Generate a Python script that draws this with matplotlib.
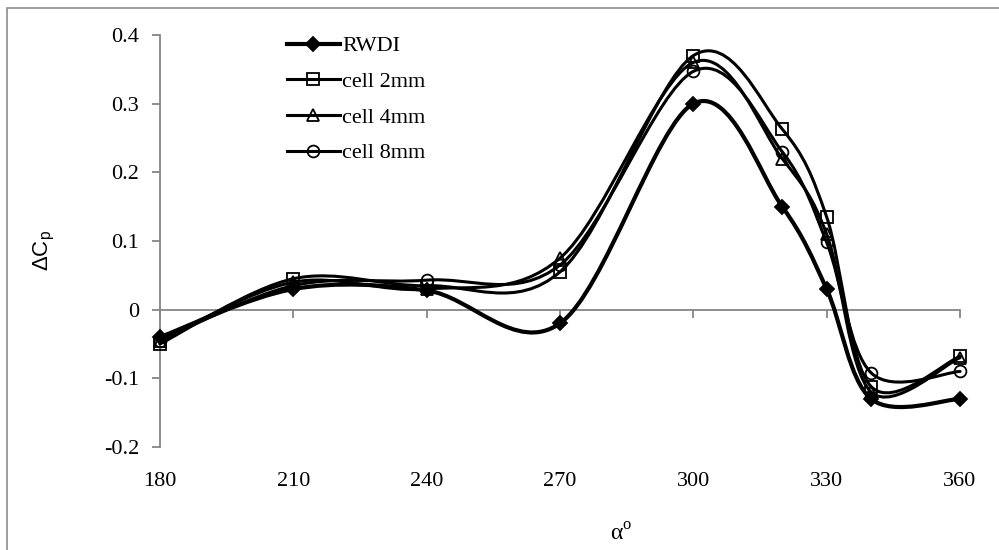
import matplotlib
matplotlib.use("Agg")
import matplotlib.pyplot as plt
import numpy as np
from matplotlib.path import Path
from matplotlib.patches import PathPatch, Rectangle
from matplotlib.lines import Line2D
from matplotlib.ticker import FuncFormatter

plt.rcParams['font.family'] = ['Liberation Serif', 'DejaVu Serif']

# data
angles = [180, 210, 240, 270, 300, 320, 330, 340, 360]
rwdi = [-0.040, 0.030, 0.028, -0.020, 0.300, 0.150, 0.030, -0.130, -0.130]
cell_2mm = [-0.050, 0.045, 0.035, 0.055, 0.370, 0.263, 0.135, -0.112, -0.068]
cell_4mm = [-0.045, 0.040, 0.030, 0.075, 0.360, 0.220, 0.110, -0.120, -0.070]
cell_8mm = [-0.045, 0.035, 0.043, 0.065, 0.347, 0.230, 0.098, -0.092, -0.090]

labels = ['RWDI', 'cell 2mm', 'cell 4mm', 'cell 8mm']
xticks = [180, 210, 240, 270, 300, 330, 360]
yticks = [-0.2, -0.1, 0, 0.1, 0.2, 0.3, 0.4]

GRAY = '#868686'


def smooth_path(xs, ys):
    # Excel-like smoothed line: cubic bezier through the points
    pts = np.column_stack([xs, ys]).astype(float)
    n = len(pts)
    verts = [pts[0]]
    codes = [Path.MOVETO]
    for i in range(n - 1):
        p0 = pts[i - 1] if i > 0 else pts[i]
        p1 = pts[i]
        p2 = pts[i + 1]
        p3 = pts[i + 2] if i + 2 < n else pts[i + 1]
        verts += [p1 + (p2 - p0) / 6, p2 - (p3 - p1) / 6, p2]
        codes += [Path.CURVE4] * 3
    return Path(verts, codes)


fig = plt.figure(figsize=(9.99, 5.5), dpi=100)
ax = fig.add_axes([0.160, 0.1873, 0.801, 0.749])

series = [
    (rwdi, dict(marker='D', ms=7.5, mfc='black'), 3.0),
    (cell_2mm, dict(marker='s', ms=8.5, mfc='none'), 2.2),
    (cell_4mm, dict(marker='^', ms=8.5, mfc='none'), 2.2),
    (cell_8mm, dict(marker='o', ms=8.5, mfc='none'), 2.2),
]

handles = []
for (vals, mk, lw), lab in zip(series, labels):
    patch = PathPatch(smooth_path(angles, vals), fill=False, edgecolor='black',
                      lw=lw, capstyle='round', joinstyle='round', clip_on=False, zorder=3)
    ax.add_patch(patch)
    ax.plot(angles, vals, ls='none', color='black', mec='black', mew=1.3,
            clip_on=False, zorder=4, **mk)
    handles.append(Line2D([], [], color='black', lw=lw, mec='black', mew=1.3, **mk))

ax.set_xlim(180, 360)
ax.set_ylim(-0.2, 0.4)

for s in ['top', 'right']:
    ax.spines[s].set_visible(False)
ax.spines['bottom'].set_position(('data', 0))
for s in ['left', 'bottom']:
    ax.spines[s].set_color(GRAY)
    ax.spines[s].set_linewidth(1.3)

ax.set_xticks(xticks)
ax.set_yticks(yticks)
ax.yaxis.set_major_formatter(FuncFormatter(lambda v, p: '0' if abs(v) < 1e-9 else f'{v:.1f}'))
ax.tick_params(axis='x', direction='out', length=5.8, width=1.3, color=GRAY, labelbottom=False)
ax.tick_params(axis='y', direction='out', length=5.8, width=1.3, color=GRAY, labelsize=16, pad=9)

sec = ax.secondary_xaxis('bottom')
sec.set_xticks(xticks)
sec.spines['bottom'].set_visible(False)
sec.tick_params(length=0, labelsize=16, pad=18)

ax.set_xlabel('α$^\\mathregular{o}$', fontsize=17)
ax.xaxis.set_label_coords(0.577, -0.185)
ax.set_ylabel('ΔC$_\\mathregular{p}$', fontsize=16, family=['Liberation Sans', 'DejaVu Sans'])
ax.yaxis.set_label_coords(-0.128, 0.478)

ax.legend(handles, labels, loc='upper left', bbox_to_anchor=(0.287, 0.935),
          bbox_transform=fig.transFigure, frameon=False, fontsize=16,
          handlelength=2.4, handletextpad=0.1, labelspacing=0.68,
          borderpad=0, borderaxespad=0)

fig.add_artist(Rectangle((7 / 999, -0.05), 1.2, 1.05 - 8 / 550, transform=fig.transFigure,
                         fill=False, edgecolor='#8c8c8c', lw=1.2))

plt.savefig('out.png', dpi=100)
